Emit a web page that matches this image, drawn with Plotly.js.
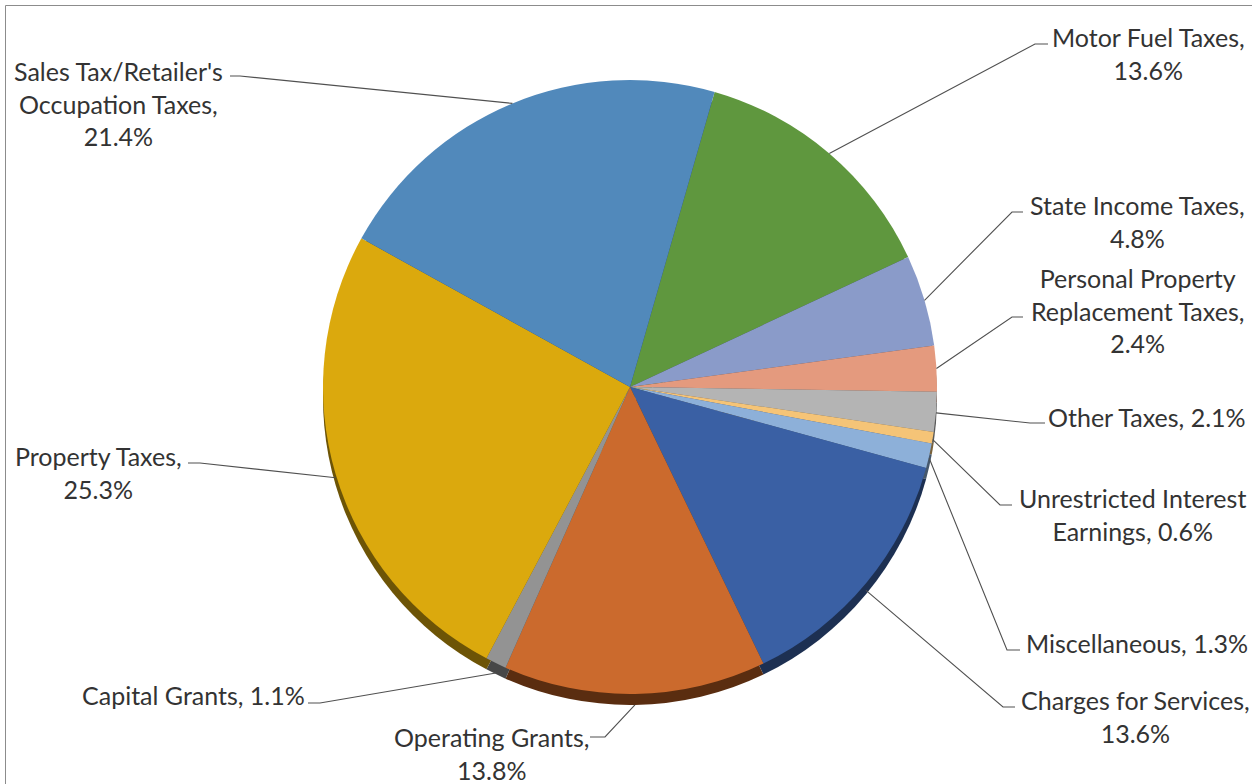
<!DOCTYPE html>
<html>
<head>
<meta charset="utf-8">
<script src="https://cdn.plot.ly/plotly-3.0.1.min.js"></script>
<style>
  html, body { margin: 0; padding: 0; background: #fff; }
  #chart { width: 1252px; height: 784px; }
</style>
</head>
<body>
<div id="chart"></div>
<script>
// ---------------- DATA ----------------
const categories = [
  "Motor Fuel Taxes",
  "State Income Taxes",
  "Personal Property<br>Replacement Taxes",
  "Other Taxes",
  "Unrestricted Interest<br>Earnings",
  "Miscellaneous",
  "Charges for Services",
  "Operating Grants",
  "Capital Grants",
  "Property Taxes",
  "Sales Tax/Retailer's<br>Occupation Taxes"
];
const values = [13.6, 4.8, 2.4, 2.1, 0.6, 1.3, 13.6, 13.8, 1.1, 25.3, 21.4];

// ---------------- STYLE ----------------
const colors = ["#5f973e", "#8a9bc9", "#e49a7e", "#b4b4b4", "#f5c477", "#8db0d9",
                "#3a60a4", "#cb6a2d", "#939393", "#dba90d", "#5189bb"];
const rimColors = ["#2f4b1f", "#454d64", "#724d3f", "#5a5a5a", "#7a623b", "#46586c",
                   "#1d3052", "#5a2d10", "#474747", "#6d5406", "#28445d"];
// separator between name and value in each label
const seps = [",<br>", ",<br>", ",<br>", ", ", ", ", ", ", ",<br>", ",<br>", ", ", ",<br>", ",<br>"];
// label placement in pixels: elbow point, end of short horizontal, text centre
const labelPos = [
  {elbow: [1035, 44],  end: [1048, 44],  text: [1148, 54]},
  {elbow: [1012, 212], end: [1023, 212], text: [1137, 221]},
  {elbow: [1012, 317], end: [1023, 317], text: [1137, 310]},
  {elbow: [1030, 423], end: [1045, 423], text: [1147, 417]},
  {elbow: [1000, 505], end: [1012, 505], text: [1132, 514]},
  {elbow: [1007, 650], end: [1020, 650], text: [1137, 643]},
  {elbow: [1003, 707], end: [1015, 707], text: [1135, 716]},
  {elbow: [605, 737],  end: [590, 737],  text: [492, 753]},
  {elbow: [320, 703],  end: [308, 703],  text: [194, 695]},
  {elbow: [200, 463],  end: [188, 463],  text: [98, 472]},
  {elbow: [240, 76],   end: [230, 76],   text: [118, 103]}
];

const W = 1252, H = 784;
const CX = 630, CY = 387, R = 307, RIM = 11;
const ROT = 16;
const px2x = p => p / W;
const px2y = p => 1 - p / H;

const dom = {x: [px2x(CX - R), px2x(CX + R)], y: [px2y(CY + R), px2y(CY - R)]};
const domRim = {x: dom.x, y: [px2y(CY + R + RIM), px2y(CY - R + RIM)]};

const rimTrace = {
  type: "pie", labels: categories, values: values, sort: false,
  direction: "clockwise", rotation: ROT, domain: domRim,
  marker: {colors: rimColors, line: {width: 0}},
  textinfo: "none", hoverinfo: "skip", showlegend: false
};
const pieTrace = {
  type: "pie", labels: categories, values: values, sort: false,
  direction: "clockwise", rotation: ROT, domain: dom,
  marker: {colors: colors, line: {width: 0}},
  textinfo: "none", hoverinfo: "label+percent", showlegend: false
};

// leader lines and labels derived from slice angles
const total = values.reduce((a, b) => a + b, 0);
const shapes = [];
const annotations = [];
let acc = 0;
values.forEach((v, i) => {
  const mid = (ROT + (acc + v / 2) / total * 360) * Math.PI / 180;
  acc += v;
  const c = Math.cos(mid), s = Math.sin(mid);
  const ex = CX + R * s;
  const ey = CY - R * c + (c < 0 ? -c * RIM : 0);
  const lp = labelPos[i];
  shapes.push({
    type: "path", xref: "paper", yref: "paper",
    path: `M ${px2x(ex)} ${px2y(ey)} L ${px2x(lp.elbow[0])} ${px2y(lp.elbow[1])} L ${px2x(lp.end[0])} ${px2y(lp.end[1])}`,
    line: {color: "#505050", width: 1.1}
  });
  annotations.push({
    xref: "paper", yref: "paper",
    x: px2x(lp.text[0]), y: px2y(lp.text[1]),
    xanchor: "center", yanchor: "middle", align: "center",
    showarrow: false,
    text: categories[i] + seps[i] + v.toFixed(1) + "%",
    font: {family: "Lato, 'Open Sans', sans-serif", size: 25, color: "#333333"}
  });
});

// chart frame
shapes.push({
  type: "rect", xref: "paper", yref: "paper",
  x0: px2x(5.5), x1: 1.05, y0: -0.05, y1: px2y(5.5),
  line: {color: "#8c8c8c", width: 1}, fillcolor: "rgba(0,0,0,0)"
});

const layout = {
  width: W, height: H,
  margin: {l: 0, r: 0, t: 0, b: 0},
  paper_bgcolor: "#ffffff",
  showlegend: false,
  shapes: shapes,
  annotations: annotations
};

Plotly.newPlot("chart", [rimTrace, pieTrace], layout, {displayModeBar: false, staticPlot: true});
</script>
</body>
</html>
